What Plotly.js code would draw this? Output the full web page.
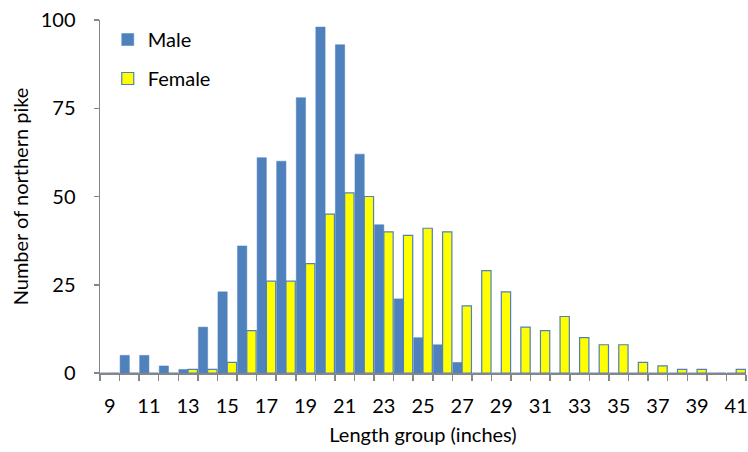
<!DOCTYPE html>
<html>
<head>
<meta charset="utf-8">
<script src="https://cdn.plot.ly/plotly-3.0.1.min.js"></script>
<style>html,body{margin:0;padding:0;background:#fff;}#chart{width:748px;height:452px;}</style>
</head>
<body>
<div id="chart"></div>
<script>
const lengthGroups = [9,10,11,12,13,14,15,16,17,18,19,20,21,22,23,24,25,26,27,28,29,30,31,32,33,34,35,36,37,38,39,40,41];
const maleCounts   = [0,5,5,2,1,13,23,36,61,60,78,98,93,62,42,21,10,8,3,0,0,0,0,0,0,0,0,0,0,0,0,0,0];
const femaleCounts = [0,0,0,0,1,1,3,12,26,26,31,45,51,50,40,39,41,40,19,29,23,13,12,16,10,8,8,3,2,1,1,0,1];
const xTickLabels = [9,11,13,15,17,19,21,23,25,27,29,31,33,35,37,39,41];
const yTickValues = [0,25,50,75,100];

const boundaries = lengthGroups.map(v => v - 0.5).concat([lengthGroups[lengthGroups.length-1] + 0.5]);
const FONT = 'Lato, "Open Sans", sans-serif';

const traces = [
  {type:'bar', name:'Male', x:lengthGroups, y:maleCounts, legendgroup:'m',
   marker:{color:'#4F81BD', line:{color:'#4F81BD', width:0.5}}},
  {type:'bar', name:'Female', x:lengthGroups, y:femaleCounts, legendgroup:'f',
   marker:{color:'#FFFF00', line:{color:'#4F81BD', width:1.2}}}
];

const layout = {
  width:748, height:452,
  margin:{l:100, r:2, t:20, b:79},
  paper_bgcolor:'#fff', plot_bgcolor:'#fff',
  barmode:'group', bargap:0.05, bargroupgap:0,
  font:{family:FONT, size:20, color:'#000'},
  showlegend:true,
  legend:{x:0.012, y:1.0, xanchor:'left', yanchor:'top', bgcolor:'rgba(0,0,0,0)',
          font:{family:FONT, size:20}, traceorder:'grouped', tracegroupgap:10, itemwidth:30},
  xaxis:{
    range:[lengthGroups[0]-0.5, lengthGroups[lengthGroups.length-1]+0.5],
    tickmode:'array', tickvals:xTickLabels, ticktext:xTickLabels.map(String),
    ticks:'', showgrid:false, zeroline:false,
    showline:true, linecolor:'#868686', linewidth:1.5,
    tickfont:{family:FONT, size:20}, ticklabelstandoff:14,
    minor:{tickmode:'array', tickvals:boundaries, ticks:'outside', ticklen:6, tickcolor:'#868686', tickwidth:1.5, showgrid:false},
    title:{text:'Length group (inches)', font:{family:FONT, size:20}, standoff:12}
  },
  yaxis:{
    range:[0,100], tickmode:'array', tickvals:yTickValues,
    ticks:'outside', ticklen:5, tickcolor:'#868686', tickwidth:1.5,
    showgrid:false, zeroline:false,
    showline:true, linecolor:'#868686', linewidth:1.5,
    tickfont:{family:FONT, size:20}, ticklabelstandoff:14,
    title:{text:'Number of northern pike', font:{family:FONT, size:20}, standoff:6}
  }
};

Plotly.newPlot('chart', traces, layout, {displayModeBar:false, staticPlot:true});
</script>
</body>
</html>
